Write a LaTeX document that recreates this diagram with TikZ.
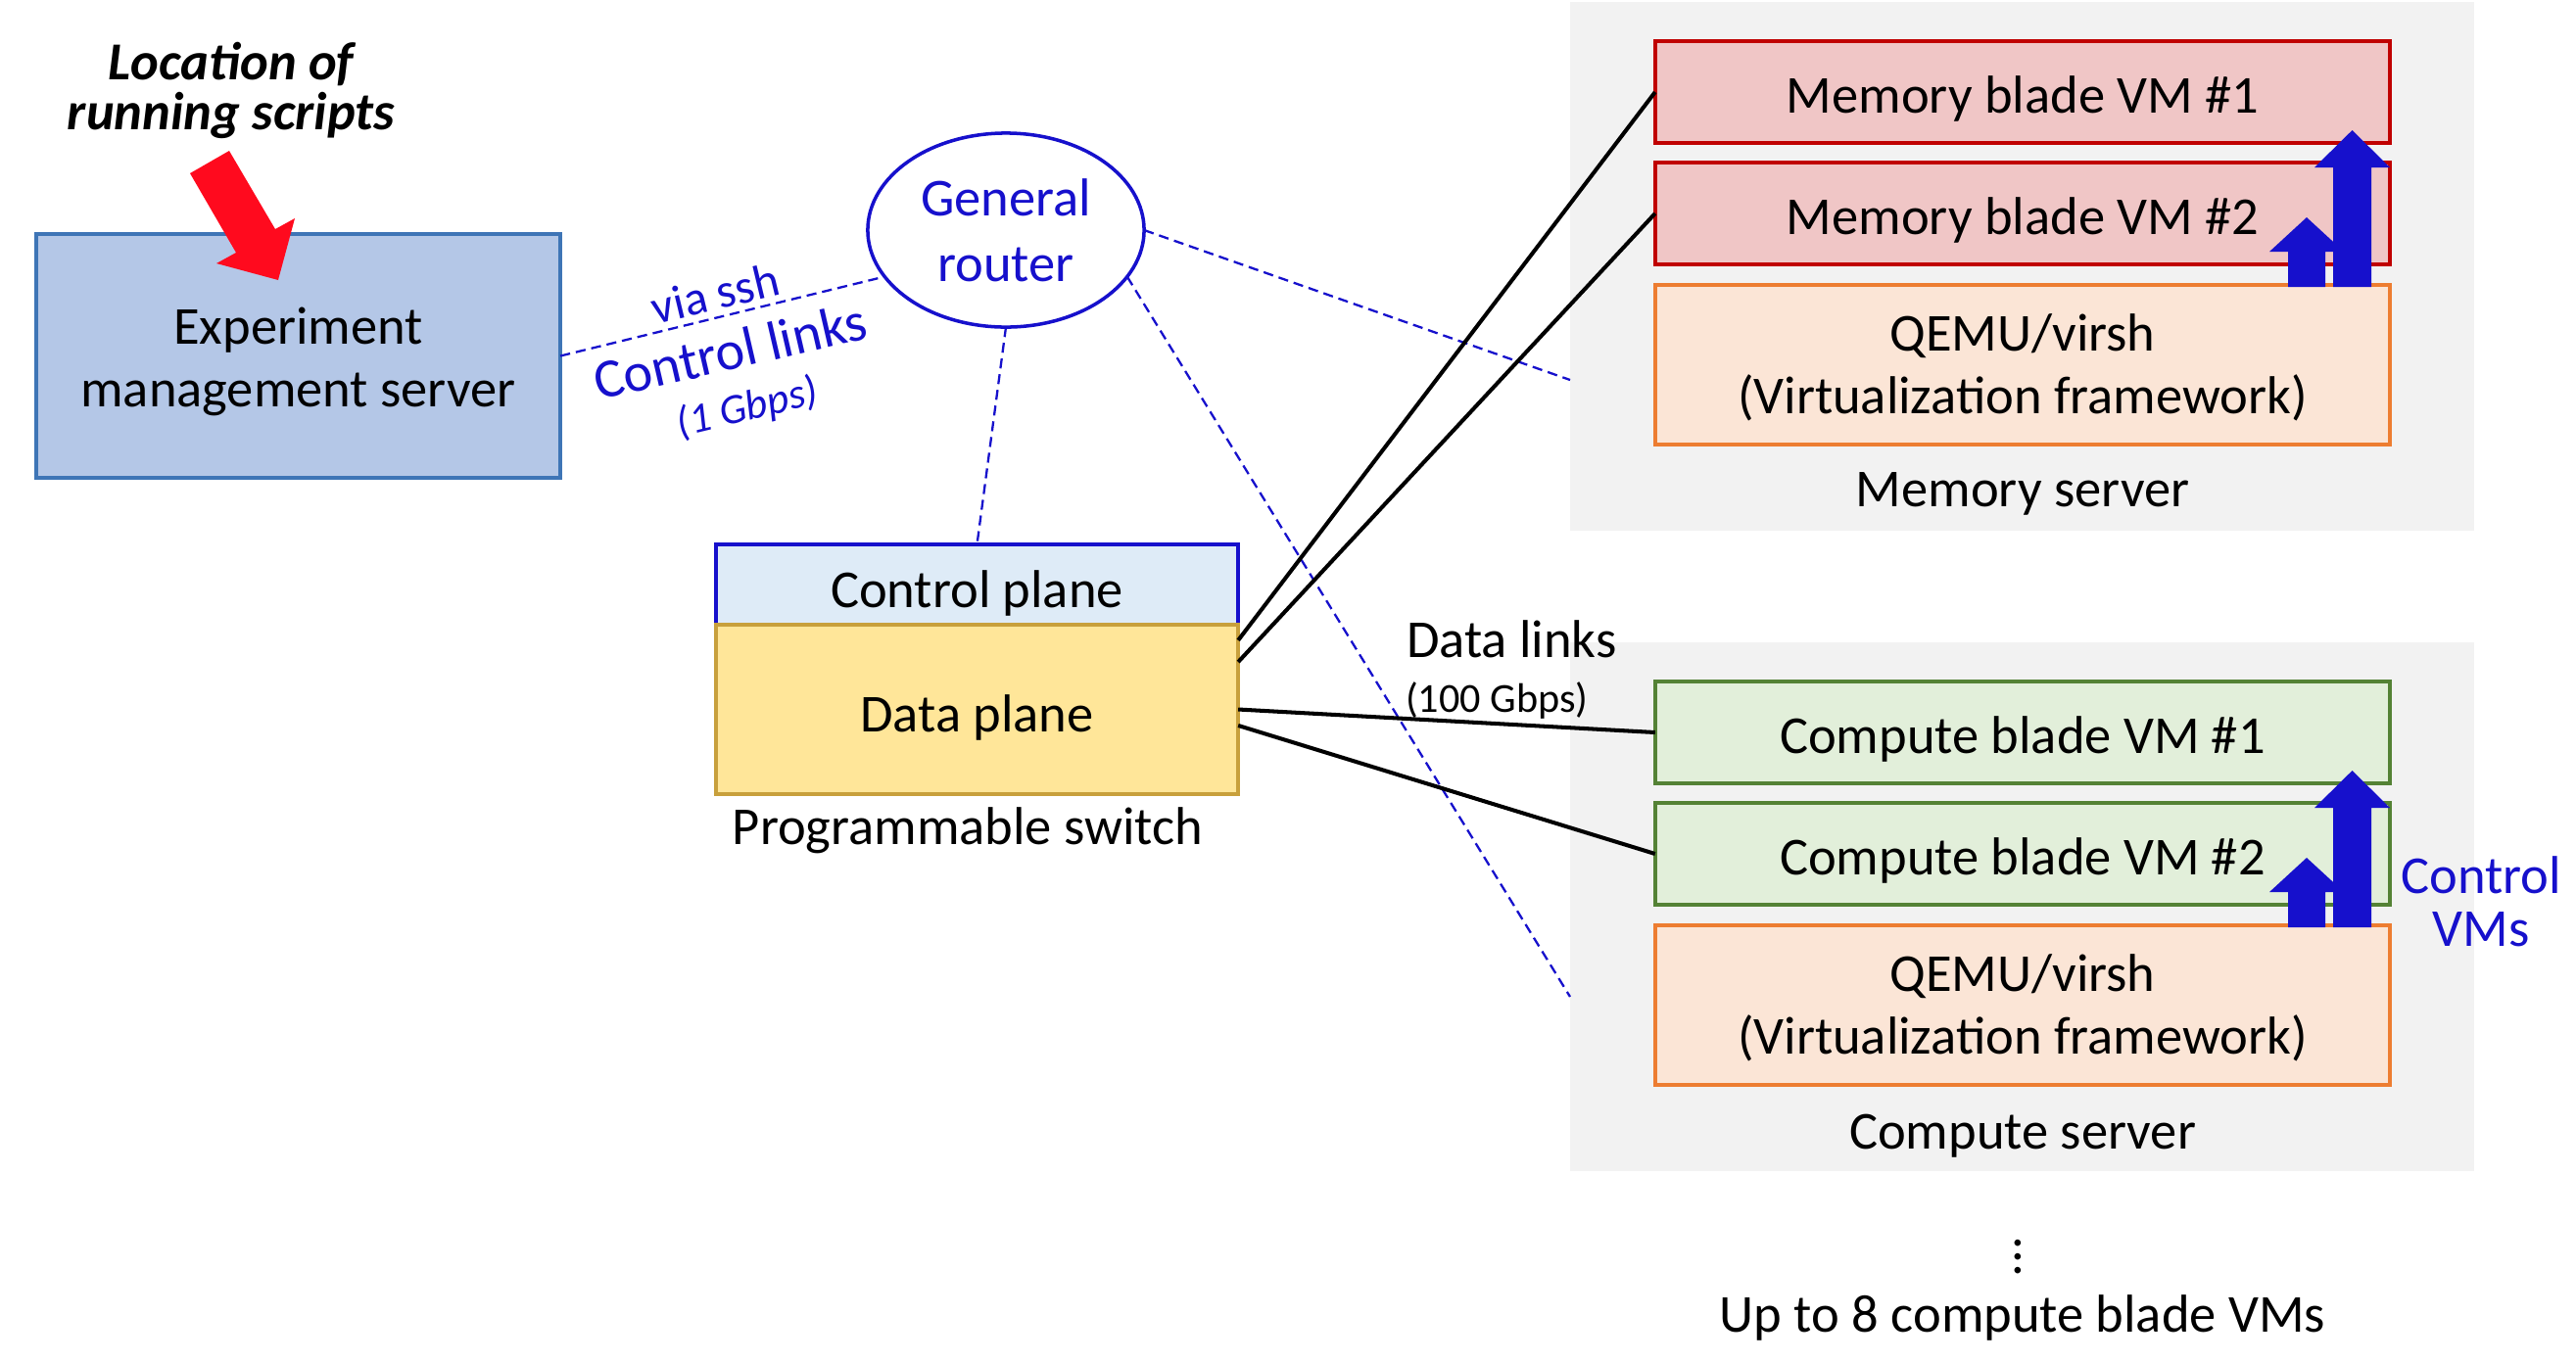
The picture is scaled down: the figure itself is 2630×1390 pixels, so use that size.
\documentclass[tikz,border=0pt]{standalone}
\usepackage{fontspec}
\setmainfont{Carlito}
\usetikzlibrary{calc,shapes.geometric}
\definecolor{myblue}{RGB}{22,16,204}
\definecolor{expfill}{RGB}{180,199,231}
\definecolor{expborder}{RGB}{62,117,182}
\definecolor{ctrlfill}{RGB}{222,235,247}
\definecolor{datafill}{RGB}{255,230,153}
\definecolor{databorder}{RGB}{200,160,60}
\definecolor{grayfill}{RGB}{242,242,242}
\definecolor{memfill}{RGB}{240,198,198}
\definecolor{memborder}{RGB}{192,0,0}
\definecolor{qfill}{RGB}{251,229,214}
\definecolor{qborder}{RGB}{237,125,49}
\definecolor{compfill}{RGB}{226,239,218}
\definecolor{compborder}{RGB}{84,130,53}
\definecolor{arrowred}{RGB}{255,10,30}
\newcommand\mainfs{\fontsize{15.5}{18.2}\selectfont}
\newcommand\routerfs{\fontsize{15.5}{19}\selectfont}
\begin{document}
\begin{tikzpicture}[x=0.01cm,y=-0.01cm]
\tikzset{
 txt/.style={font=\mainfs, inner sep=0pt, outer sep=0pt, align=center},
 blk/.style={draw, line width=1pt, inner sep=0pt, outer sep=0pt, font=\mainfs},
 oneline/.style={text height=13pt, text depth=0.8pt},
 lowline/.style={text height=13.5pt, text depth=0.4pt},
 expbox/.style={blk, draw=expborder, fill=expfill, minimum width=5.35cm, minimum height=2.49cm},
 ctrlbox/.style={blk, lowline, draw=myblue, fill=ctrlfill, minimum width=5.33cm, minimum height=0.82cm},
 databox/.style={blk, lowline, draw=databorder, fill=datafill, minimum width=5.33cm, minimum height=1.73cm},
 srvbox/.style={fill=grayfill, inner sep=0pt, outer sep=0pt, minimum width=9.23cm, minimum height=5.4cm},
 membox/.style={blk, oneline, draw=memborder, fill=memfill, minimum width=7.5cm, minimum height=1.04cm},
 compbox/.style={blk, oneline, draw=compborder, fill=compfill, minimum width=7.5cm, minimum height=1.04cm},
 qemubox/.style={blk, draw=qborder, fill=qfill, minimum width=7.5cm, minimum height=1.63cm},
 routerell/.style={ellipse, draw=myblue, line width=1pt, fill=white, inner sep=0pt, outer sep=0pt, minimum width=2.82cm, minimum height=1.98cm, text=myblue, align=center, font=\routerfs},
 ctlline/.style={draw=myblue, line width=0.65pt, dash pattern=on 2.9pt off 1.7pt},
 dataline/.style={draw=black, line width=1.15pt},
 bluelbl/.style={text=myblue, inner sep=0pt, outer sep=0pt},
 uparrow/.style={fill=myblue},
}
\useasboundingbox (0,0) rectangle (2630,1390);
\fill[white] (0,0) rectangle (2630,1390);

% server backgrounds
\node[srvbox] (memsrv) at (2064.5,272) {};
\node[srvbox] (compsrv) at (2064.5,926) {};

% left side
\node[expbox] (exp) at (304.5,363.5) {};
\node[txt] (exptxt) at ($(exp.center)+(0,6)$) {Experiment\\management server};
\node[txt, font=\fontsize{15.5}{14.5}\selectfont\bfseries\itshape] (loc) at (236,92) {Location of\\running scripts};
\fill[arrowred] (194,177) -- (234,154) -- (281,234) -- (301,223) -- (284,286) -- (221,269) -- (241,258) -- cycle;

\node[routerell] (router) at (1027,235) {General\\router};
\node[ctrlbox] (ctrl) at (997.5,597) {Control plane};
\node[databox] (data) at (997.5,724.5) {Data plane};
\node[txt] (pswitch) at (988,848) {Programmable switch};

% memory server
\node[membox] (mem1) at (2065,94) {Memory blade VM \#1};
\node[membox] (mem2) at (2065,218) {Memory blade VM \#2};
\node[qemubox] (qemu1) at (2065,372.5) {};
\node[txt] (qemu1txt) at ($(qemu1.center)+(0,3)$) {QEMU/virsh\\(Virtualization framework)};
\node[txt] (memlbl) at (2065,504) {Memory server};

% compute server
\node[compbox] (comp1) at (2065,748) {Compute blade VM \#1};
\node[compbox] (comp2) at (2065,872) {Compute blade VM \#2};
\node[qemubox] (qemu2) at (2065,1026.5) {};
\node[txt] (qemu2txt) at ($(qemu2.center)+(0,3)$) {QEMU/virsh\\(Virtualization framework)};
\node[txt] (complbl) at (2065,1160) {Compute server};
\node[txt] (vdots) at (2060,1273) {\vdots};
\node[txt] (upto) at (2065,1346) {Up to 8 compute blade VMs};

% control links (dashed)
\coordinate (m3) at (1603,388);
\coordinate (c3) at (1603,1018);
\draw[ctlline] (exp.east) -- (router.201);
\draw[ctlline] (router.south) -- (ctrl.north);
\draw[ctlline] (router.east) -- (m3);
\draw[ctlline] (router.339) -- (c3);

% data links
\draw[dataline] ($(data.north east)!0.092!(data.south east)$) -- (mem1.west);
\draw[dataline] ($(data.north east)!0.22!(data.south east)$) -- (mem2.west);
\draw[dataline] (data.east) -- (comp1.west);
\draw[dataline] ($(data.north east)!0.595!(data.south east)$) -- (comp2.west);

% labels
\node[bluelbl, font=\fontsize{14}{16}\selectfont, rotate=13.5, anchor=base] (ssh) at (734,316) {via ssh};
\node[bluelbl, font=\fontsize{16}{18}\selectfont, rotate=13, anchor=base] (clinks) at (750,377) {Control links};
\node[bluelbl, font=\fontsize{12.3}{14}\selectfont\itshape, rotate=13.5, anchor=base] (gbps) at (766,429) {(1 Gbps)};
\node[txt, anchor=base west] (dlinks) at (1436,671) {Data links};
\node[txt, anchor=base west, font=\fontsize{12}{14}\selectfont] (dgbps) at (1435,727) {(100 Gbps)};
\node[bluelbl, align=center, font=\fontsize{15.5}{15.5}\selectfont] (cvms) at (2533,921) {Control\\VMs};

% blue up arrows (memory)
\fill[uparrow] (2336,293) -- (2336,257) -- (2317,257) -- (2355,222) -- (2393,257) -- (2374,257) -- (2374,293) -- cycle;
\fill[uparrow] (2382,293) -- (2382,171) -- (2363,171) -- (2401.5,133) -- (2440,171) -- (2421,171) -- (2421,293) -- cycle;
% blue up arrows (compute)
\fill[uparrow] (2336,947) -- (2336,911) -- (2317,911) -- (2355,876) -- (2393,911) -- (2374,911) -- (2374,947) -- cycle;
\fill[uparrow] (2382,947) -- (2382,825) -- (2363,825) -- (2401.5,787) -- (2440,825) -- (2421,825) -- (2421,947) -- cycle;
\end{tikzpicture}
\end{document}
